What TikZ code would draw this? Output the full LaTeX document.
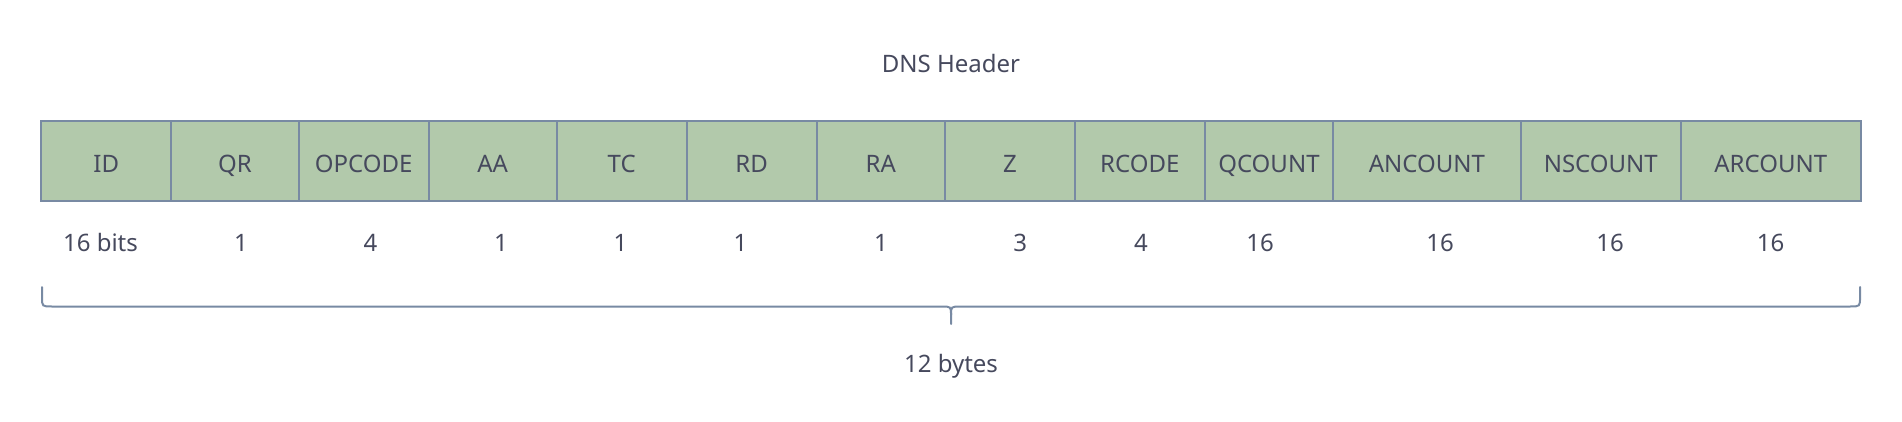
\documentclass[tikz,border=0pt]{standalone}
\usepackage{fontspec}
\setmainfont{Noto Sans}
\definecolor{fieldfill}{HTML}{B2C9AB}
\definecolor{fieldline}{HTML}{788AA3}
\definecolor{txt}{HTML}{46495D}
\begin{document}
\begin{tikzpicture}[x=1pt,y=-1pt,
  field/.style={draw=fieldline, fill=fieldfill, line width=2pt, inner sep=0pt, text=txt, font=\fontsize{24}{28}\selectfont, text height=23.6pt, text depth=0pt},
  lbl/.style={text=txt, font=\fontsize{24}{28}\selectfont, inner sep=0pt},
  bracestyle/.style={draw=fieldline, line width=2pt, line cap=round}]
\useasboundingbox (0,0) rectangle (1902,422);
\node[lbl] (title) at (951,63.5) {DNS Header};
\foreach \l/\r/\t/\n in {41.2/171.2/ID/f1, 171.2/298.7/QR/f2, 298.7/428.5/OPCODE/f3, 428.5/556.9/AA/f4, 556.9/686.6/TC/f5, 686.6/816.5/RD/f6, 816.5/944.9/RA/f7, 944.9/1074.9/Z/f8, 1074.9/1204.6/RCODE/f9, 1204.6/1333.2/QCOUNT/f10, 1333.2/1520.7/ANCOUNT/f11, 1520.7/1680.8/NSCOUNT/f12, 1680.8/1860.8/ARCOUNT/f13} {
  \node[field, minimum width={(\r-\l)*1pt}, minimum height=80.5pt] (\n) at ({(\l+\r)/2},160.9) {\t};
}
\foreach \x/\t/\n in {100.5/16 bits/n1, 241/1/n2, 370.5/4/n3, 501/1/n4, 620.5/1/n5, 740.4/1/n6, 881/1/n7, 1020.2/3/n8, 1141/4/n9, 1260/16/n10, 1440/16/n11, 1610/16/n12, 1770.6/16/n13} {
  \node[lbl, anchor=base] (\n) at (\x,251.5) {\t};
}
\coordinate (bl) at (42,287);
\coordinate (br) at (1860,287);
\coordinate (bt) at (951,324);
\draw[bracestyle] (bl) -- (42,297) .. controls (42,306.5) .. (52,306.5) -- (941,306.5) .. controls (951,306.5) .. (951,315) -- (bt);
\draw[bracestyle] (br) -- (1860,297) .. controls (1860,306.5) .. (1850,306.5) -- (961,306.5) .. controls (951,306.5) .. (951,315);
\node[lbl, anchor=base] (bytes) at (951,372) {12 bytes};
\end{tikzpicture}
\end{document}
